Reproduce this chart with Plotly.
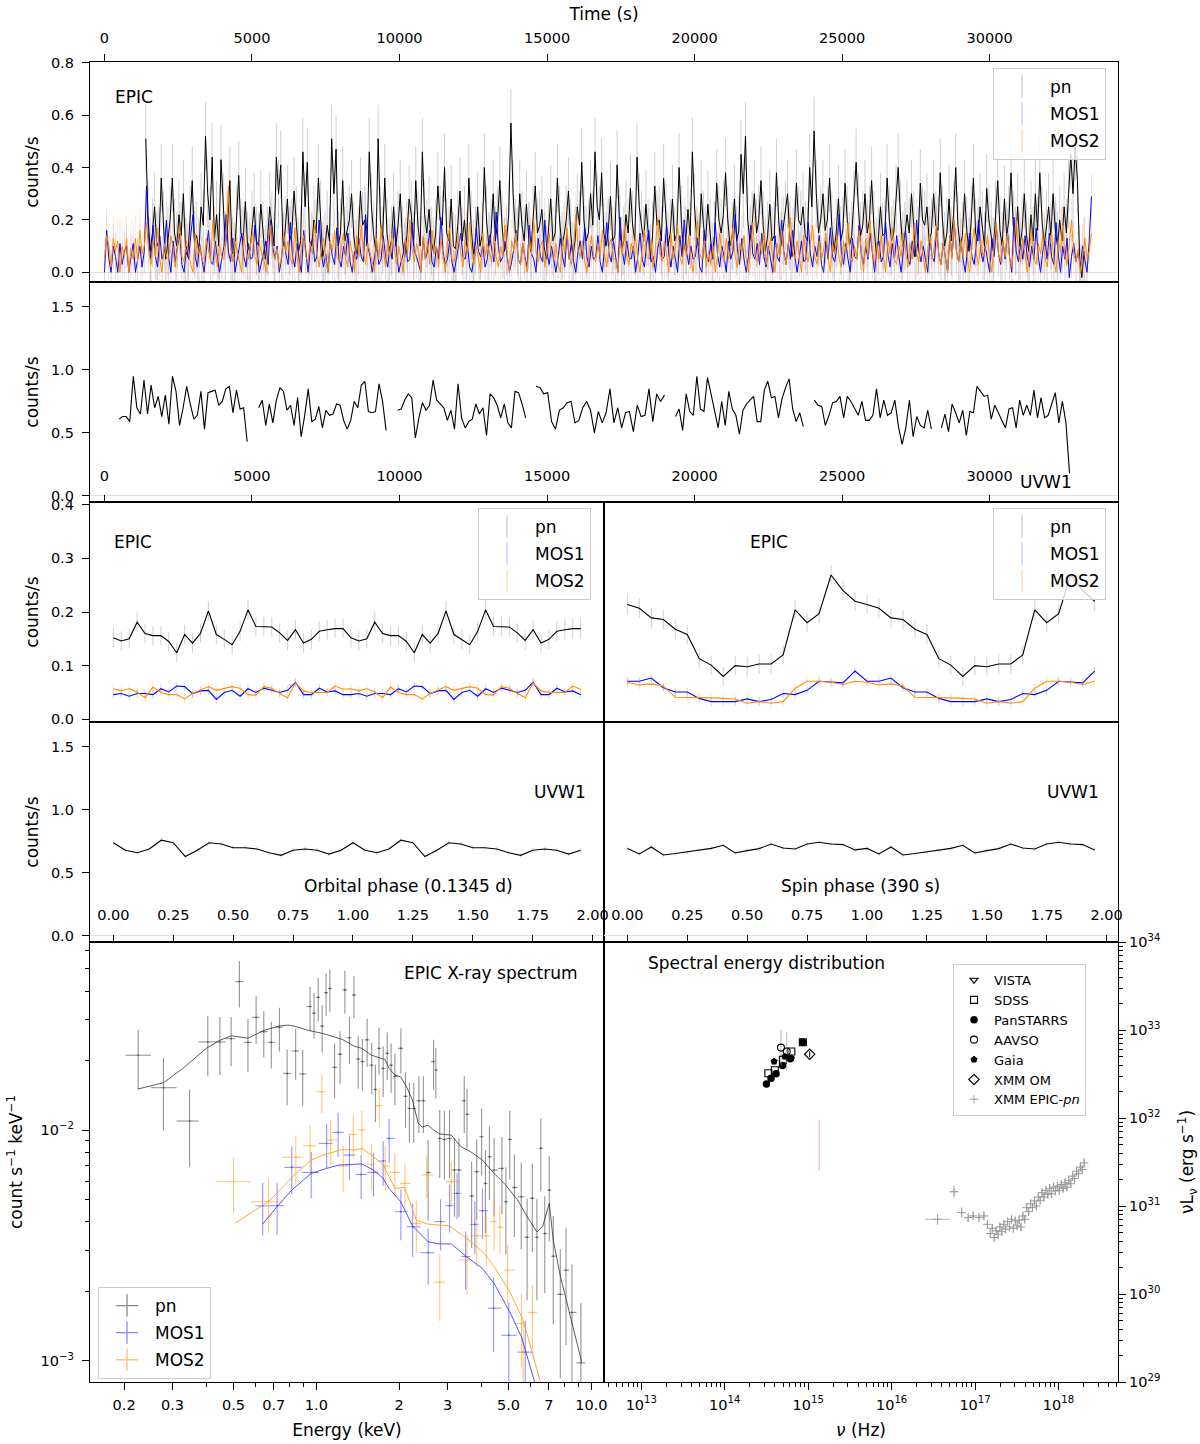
import numpy as np
import plotly.graph_objects as go

W, H = 1200, 1444
FONT = "DejaVu Sans"


def xd(a, b):
    return [a / W, b / W]


def yd(top, bot):
    return [1 - bot / H, 1 - top / H]


# ---------------------------------------------------------------- data
# EPIC light curves (75 s bins)
BIN_LC = 75.0
PN_T0 = 1400.0
pn_rate = [
    0.51, 0.22, 0.08, 0.15, 0.25, 0.10, 0.12, 0.36, 0.18, 0.05, 0.12, 0.20, 0.36, 0.15, 0.10, 0.22, 0.14, 0.30, 0.08, 0.06, 0.20, 0.35, 0.12, 0.14, 0.08,
    0.25, 0.18, 0.52, 0.30, 0.20, 0.44, 0.12, 0.22, 0.10, 0.43, 0.25, 0.10, 0.18, 0.35, 0.08, 0.06, 0.20, 0.37, 0.15, 0.12, 0.27, 0.10, 0.08, 0.18, 0.25,
    0.12, 0.10, 0.26, 0.14, 0.05, 0.12, 0.25, 0.18, 0.10, 0.44, 0.30, 0.41, 0.10, 0.16, 0.28, 0.12, 0.15, 0.31, 0.20, 0.08, 0.12, 0.46, 0.25, 0.42, 0.12,
    0.10, 0.20, 0.15, 0.36, 0.22, 0.06, 0.10, 0.18, 0.12, 0.51, 0.30, 0.47, 0.10, 0.15, 0.35, 0.12, 0.16, 0.20, 0.30, 0.14, 0.07, 0.12, 0.31, 0.18, 0.20,
    0.10, 0.46, 0.25, 0.14, 0.08, 0.51, 0.20, 0.12, 0.36, 0.15, 0.08, 0.12, 0.25, 0.10, 0.18, 0.30, 0.12, 0.06, 0.14, 0.28, 0.22, 0.10, 0.35, 0.18, 0.10,
    0.46, 0.22, 0.15, 0.24, 0.12, 0.08, 0.15, 0.33, 0.20, 0.18, 0.40, 0.15, 0.12, 0.28, 0.10, 0.09, 0.18, 0.31, 0.12, 0.20, 0.10, 0.36, 0.18, 0.07, 0.12,
    0.25, 0.10, 0.14, 0.40, 0.20, 0.10, 0.15, 0.30, 0.12, 0.20, 0.35, 0.18, 0.08, 0.12, 0.22, 0.57, 0.30, 0.15, 0.12, 0.30, 0.18, 0.12, 0.26, 0.14, 0.08,
    0.20, 0.33, 0.15, 0.18, 0.24, 0.10, 0.05, 0.15, 0.28, 0.12, 0.15, 0.36, 0.20, 0.10, 0.14, 0.20, 0.31, 0.15, 0.06, 0.12, 0.25, 0.18, 0.42, 0.20, 0.12,
    0.15, 0.30, 0.18, 0.46, 0.25, 0.20, 0.38, 0.15, 0.10, 0.16, 0.29, 0.12, 0.14, 0.41, 0.20, 0.08, 0.12, 0.22, 0.15, 0.32, 0.18, 0.12, 0.44, 0.25, 0.18,
    0.12, 0.26, 0.15, 0.05, 0.14, 0.33, 0.18, 0.20, 0.12, 0.36, 0.22, 0.10, 0.15, 0.28, 0.12, 0.15, 0.40, 0.20, 0.08, 0.12, 0.24, 0.14, 0.46, 0.25, 0.12,
    0.10, 0.30, 0.18, 0.12, 0.26, 0.15, 0.06, 0.14, 0.34, 0.20, 0.15, 0.22, 0.38, 0.20, 0.10, 0.14, 0.28, 0.12, 0.16, 0.45, 0.30, 0.52, 0.20, 0.12, 0.18,
    0.30, 0.15, 0.20, 0.35, 0.18, 0.08, 0.14, 0.26, 0.12, 0.14, 0.38, 0.20, 0.10, 0.16, 0.22, 0.30, 0.14, 0.06, 0.15, 0.34, 0.20, 0.18, 0.25, 0.14, 0.12,
    0.40, 0.25, 0.54, 0.30, 0.15, 0.20, 0.30, 0.16, 0.20, 0.36, 0.18, 0.08, 0.15, 0.28, 0.12, 0.16, 0.34, 0.20, 0.10, 0.14, 0.26, 0.42, 0.25, 0.14, 0.18,
    0.30, 0.15, 0.20, 0.35, 0.18, 0.08, 0.12, 0.25, 0.14, 0.15, 0.36, 0.20, 0.12, 0.15, 0.28, 0.40, 0.22, 0.10, 0.14, 0.22, 0.15, 0.30, 0.18, 0.06, 0.12,
    0.34, 0.20, 0.18, 0.25, 0.12, 0.15, 0.30, 0.18, 0.16, 0.38, 0.20, 0.10, 0.15, 0.28, 0.12, 0.22, 0.40, 0.18, 0.10, 0.14, 0.30, 0.16, 0.08, 0.20, 0.36,
    0.15, 0.12, 0.25, 0.18, 0.10, 0.32, 0.20, 0.14, 0.08, 0.22, 0.35, 0.16, 0.10, 0.28, 0.14, 0.20, 0.38, 0.18, 0.12, 0.25, 0.10, 0.16, 0.30, 0.14, 0.08,
    0.22, 0.12, 0.30, 0.16, 0.38, 0.20, 0.10, 0.18, 0.25, 0.14, 0.30, 0.16, 0.10, 0.20, 0.12, 0.25, 0.15, 0.30, 0.45, 0.30, 0.48, 0.35, 0.05, -0.02, 0.08,
]
mos1_rate = [
    0.00, 0.16, 0.05, 0.00, 0.10, 0.06, 0.00, 0.11, 0.03, 0.08, 0.10, 0.00, 0.06, 0.11, 0.00, 0.05, 0.10, 0.02, 0.08, 0.33, 0.12, 0.05, 0.18, 0.06, 0.02,
    0.14, 0.05, 0.08, 0.20, 0.06, 0.00, 0.12, 0.04, 0.10, 0.15, 0.03, 0.00, 0.10, 0.05, 0.14, 0.22, 0.06, 0.02, 0.11, 0.05, 0.00, 0.08, 0.16, 0.04, 0.03,
    0.12, 0.06, 0.00, 0.05, 0.10, 0.22, 0.08, 0.04, 0.13, 0.00, 0.05, 0.09, 0.15, 0.06, 0.02, 0.11, 0.05, 0.06, 0.18, 0.08, 0.00, 0.04, 0.08, 0.12, 0.03,
    0.20, 0.10, 0.05, 0.10, 0.00, 0.05, 0.14, 0.07, 0.03, 0.19, 0.06, 0.02, 0.11, 0.05, 0.00, 0.16, 0.08, 0.00, 0.09, 0.13, 0.04, 0.06, 0.20, 0.07, 0.02,
    0.07, 0.00, 0.12, 0.06, 0.03, 0.17, 0.05, 0.02, 0.10, 0.06, 0.15, 0.04, 0.00, 0.08, 0.05, 0.13, 0.06, 0.04, 0.22, 0.10, 0.06, 0.00, 0.05, 0.11, 0.03,
    0.05, 0.14, 0.06, 0.02, 0.10, 0.05, 0.18, 0.08, 0.00, 0.04, 0.07, 0.12, 0.04, 0.05, 0.19, 0.08, 0.06, 0.03, 0.00, 0.13, 0.05, 0.08, 0.16, 0.04, 0.02,
    0.10, 0.05, 0.21, 0.08, 0.03, 0.05, 0.12, 0.04, 0.00, 0.05, 0.09, 0.15, 0.06, 0.05, 0.11, 0.02, 0.00, 0.06, 0.17, 0.08, 0.06, 0.10, 0.02, 0.05, 0.14,
    0.08, 0.04, 0.23, 0.10, 0.04, 0.06, 0.12, 0.05, 0.00, 0.04, 0.09, 0.16, 0.05, 0.03, 0.11, 0.06, 0.02, 0.18, 0.07, 0.05, 0.00, 0.13, 0.06, 0.04, 0.20,
    0.07, 0.03, 0.10, 0.05, 0.00, 0.06, 0.13, 0.06, 0.02, 0.15, 0.05, 0.11, 0.04, 0.00, 0.08, 0.12, 0.05, 0.17, 0.06, 0.02, 0.10, 0.05, 0.06, 0.14, 0.04,
    0.00, 0.09, 0.19, 0.07, 0.04, 0.12, 0.05, 0.00, 0.21, 0.08, 0.03, 0.12, 0.06, 0.05, 0.10, 0.00, 0.06, 0.15, 0.05, 0.02, 0.11, 0.16, 0.04, 0.06, 0.00,
    0.09, 0.13, 0.05, 0.06, 0.18, 0.07, 0.02, 0.10, 0.05, 0.00, 0.14, 0.06, 0.20, 0.08, 0.03, 0.10, 0.05, 0.06, 0.13, 0.02, 0.00, 0.16, 0.06, 0.04, 0.11,
    0.05, 0.19, 0.07, 0.02, 0.10, 0.06, 0.00, 0.12, 0.05, 0.08, 0.22, 0.09, 0.03, 0.13, 0.05, 0.00, 0.06, 0.18, 0.07, 0.05, 0.11, 0.03, 0.15, 0.06, 0.02,
    0.10, 0.05, 0.00, 0.14, 0.06, 0.04, 0.20, 0.08, 0.03, 0.11, 0.05, 0.16, 0.06, 0.00, 0.07, 0.12, 0.04, 0.05, 0.19, 0.07, 0.02, 0.10, 0.06, 0.14, 0.03,
    0.00, 0.12, 0.05, 0.17, 0.06, 0.04, 0.10, 0.22, 0.08, 0.03, 0.11, 0.05, 0.00, 0.13, 0.06, 0.05, 0.18, 0.07, 0.03, 0.10, 0.05, 0.15, 0.06, 0.00, 0.09,
    0.12, 0.04, 0.06, 0.19, 0.07, 0.02, 0.11, 0.05, 0.14, 0.06, 0.00, 0.08, 0.16, 0.05, 0.03, 0.12, 0.06, 0.20, 0.08, 0.04, 0.10, 0.05, 0.00, 0.13, 0.06,
    0.04, 0.17, 0.07, 0.03, 0.11, 0.05, 0.00, 0.14, 0.06, 0.19, 0.08, 0.04, 0.12, 0.05, 0.00, 0.09, 0.15, 0.06, 0.03, 0.11, 0.20, 0.08, 0.04, 0.10, 0.05,
    0.00, 0.13, 0.06, 0.18, 0.07, 0.03, 0.12, 0.05, 0.16, 0.06, 0.00, 0.21, 0.08, 0.04, 0.11, 0.05, 0.14, 0.06, 0.02, 0.10, 0.05, 0.17, 0.06, 0.00, 0.08,
    0.12, 0.05, 0.15, 0.06, 0.03, 0.19, 0.07, 0.00, 0.10, 0.05, 0.13, -0.02, 0.06, 0.11, 0.04, 0.08, 0.02, 0.10, 0.05, 0.00, 0.12, 0.29,
]
mos2_rate = [
    0.05, 0.14, 0.10, 0.02, 0.13, 0.08, 0.12, 0.00, 0.10, 0.06, 0.13, 0.00, 0.09, 0.05, 0.13, 0.04, 0.16, 0.07, 0.10, 0.19, 0.08, 0.03, 0.12, 0.06, 0.17,
    0.05, 0.00, 0.11, 0.06, 0.05, 0.14, 0.09, 0.02, 0.09, 0.18, 0.06, 0.04, 0.12, 0.07, 0.03, 0.00, 0.15, 0.06, 0.10, 0.05, 0.03, 0.13, 0.08, 0.04, 0.20,
    0.08, 0.02, 0.11, 0.06, 0.05, 0.14, 0.33, 0.10, 0.04, 0.12, 0.08, 0.05, 0.00, 0.14, 0.08, 0.05, 0.10, 0.16, 0.06, 0.03, 0.11, 0.07, 0.05, 0.00, 0.13,
    0.18, 0.08, 0.05, 0.09, 0.02, 0.06, 0.15, 0.08, 0.12, 0.05, 0.03, 0.17, 0.06, 0.00, 0.10, 0.14, 0.06, 0.04, 0.11, 0.07, 0.19, 0.08, 0.02, 0.09, 0.13,
    0.05, 0.00, 0.12, 0.08, 0.16, 0.06, 0.04, 0.10, 0.15, 0.05, 0.02, 0.12, 0.07, 0.00, 0.14, 0.06, 0.18, 0.08, 0.03, 0.11, 0.08, 0.04, 0.00, 0.13, 0.05,
    0.17, 0.09, 0.02, 0.12, 0.06, 0.15, 0.08, 0.03, 0.10, 0.05, 0.00, 0.13, 0.07, 0.20, 0.09, 0.04, 0.11, 0.08, 0.00, 0.14, 0.05, 0.12, 0.03, 0.16, 0.07,
    0.10, 0.02, 0.13, 0.06, 0.00, 0.11, 0.17, 0.05, 0.04, 0.09, 0.14, 0.07, 0.02, 0.12, 0.07, 0.19, 0.08, 0.03, 0.10, 0.05, 0.00, 0.15, 0.06, 0.11, 0.08,
    0.04, 0.14, 0.06, 0.02, 0.10, 0.06, 0.18, 0.07, 0.00, 0.12, 0.08, 0.15, 0.05, 0.03, 0.11, 0.05, 0.00, 0.13, 0.07, 0.20, 0.08, 0.04, 0.10, 0.12, 0.02,
    0.09, 0.15, 0.06, 0.05, 0.11, 0.03, 0.00, 0.13, 0.07, 0.17, 0.06, 0.03, 0.10, 0.22, 0.08, 0.06, 0.12, 0.04, 0.00, 0.08, 0.14, 0.06, 0.04, 0.11, 0.06,
    0.16, 0.07, 0.02, 0.10, 0.13, 0.05, 0.05, 0.00, 0.12, 0.07, 0.18, 0.06, 0.03, 0.11, 0.08, 0.14, 0.05, 0.00, 0.09, 0.16, 0.06, 0.05, 0.12, 0.02, 0.10,
    0.21, 0.08, 0.04, 0.12, 0.07, 0.00, 0.15, 0.05, 0.10, 0.18, 0.06, 0.03, 0.11, 0.06, 0.14, 0.05, 0.00, 0.09, 0.20, 0.07, 0.05, 0.12, 0.02, 0.08, 0.03,
    0.10, 0.00, 0.06, 0.15, 0.07, 0.04, 0.13, 0.05, 0.09, 0.17, 0.06, 0.02, 0.11, 0.08, 0.14, 0.05, 0.00, 0.10, 0.19, 0.06, 0.04, 0.12, 0.07, 0.15, 0.03,
    0.08, 0.13, 0.05, 0.00, 0.11, 0.06, 0.16, 0.07, 0.03, 0.10, 0.21, 0.08, 0.05, 0.12, 0.06, 0.00, 0.14, 0.07, 0.04, 0.10, 0.18, 0.06, 0.03, 0.12, 0.05,
    0.09, 0.15, 0.06, 0.00, 0.11, 0.07, 0.14, 0.05, 0.02, 0.12, 0.08, 0.19, 0.06, 0.04, 0.10, 0.05, 0.16, 0.07, 0.00, 0.13, 0.06, 0.20, 0.08, 0.03, 0.11,
    0.05, 0.14, 0.06, 0.00, 0.12, 0.07, 0.17, 0.05, 0.03, 0.10, 0.06, 0.15, 0.08, 0.02, 0.11, 0.05, 0.19, 0.07, 0.04, 0.12, 0.06, 0.00, 0.09, 0.14, 0.05,
    0.10, 0.18, 0.07, 0.03, 0.11, 0.06, 0.00, 0.14, 0.05, 0.20, 0.08, 0.04, 0.12, 0.06, 0.15, 0.05, 0.00, 0.10, 0.17, 0.07, 0.03, 0.12, 0.06, 0.08, 0.14,
    0.05, 0.00, 0.11, 0.19, 0.07, 0.04, 0.12, 0.06, 0.15, 0.05, 0.02, 0.10, 0.20, 0.08, 0.04, 0.13, 0.06, 0.00, 0.09, 0.16, 0.05, 0.03, 0.11, 0.07, 0.14,
    0.06, 0.02, 0.10, 0.15, 0.05, 0.00, 0.12, 0.08, 0.18, 0.06, 0.03, 0.11, 0.20, 0.07, 0.04, 0.09, 0.00, 0.06, 0.13, 0.05, 0.08, 0.15,
]
PN_LC_ERR = 0.13
MOS_LC_ERR = 0.085

# UVW1 light curve, one list per exposure segment
uvw1_seg_start = [495, 5227, 9933, 14626, 19355, 24060, 28365]
uvw1_seg_end = [4837, 9545, 14275, 18980, 23685, 28025, 32707]
uvw1_rate = [
    [0.61, 0.63, 0.63, 0.59, 0.95, 0.70, 0.65, 0.92, 0.65, 0.88, 0.70, 0.79, 0.63, 0.80, 0.57, 0.95, 0.83, 0.56, 0.70,
     0.87, 0.73, 0.61, 0.64, 0.83, 0.53, 0.82, 0.83, 0.84, 0.72, 0.75, 0.85, 0.87, 0.66, 0.84, 0.69, 0.70, 0.43],
    [0.70, 0.76, 0.56, 0.73, 0.58, 0.76, 0.86, 0.83, 0.68, 0.72, 0.56, 0.78, 0.47, 0.64, 0.85, 0.59, 0.61, 0.71, 0.54,
     0.68, 0.64, 0.65, 0.73, 0.72, 0.60, 0.53, 0.60, 0.75, 0.70, 0.88, 0.91, 0.67, 0.66, 0.67, 0.89, 0.75, 0.52],
    [0.68, 0.69, 0.76, 0.81, 0.78, 0.46, 0.62, 0.74, 0.68, 0.72, 0.92, 0.76, 0.73, 0.70, 0.60, 0.68, 0.53, 0.89, 0.62,
     0.54, 0.59, 0.61, 0.73, 0.65, 0.70, 0.48, 0.81, 0.78, 0.72, 0.62, 0.73, 0.58, 0.54, 0.83, 0.82, 0.73, 0.62],
    [0.87, 0.86, 0.81, 0.82, 0.59, 0.53, 0.68, 0.70, 0.74, 0.75, 0.58, 0.60, 0.70, 0.75, 0.68, 0.50, 0.67, 0.58,
     0.66, 0.85, 0.58, 0.70, 0.54, 0.66, 0.67, 0.51, 0.72, 0.63, 0.64, 0.85, 0.59, 0.81, 0.75, 0.80],
    [0.63, 0.69, 0.52, 0.81, 0.67, 0.64, 0.95, 0.69, 0.67, 0.94, 0.81, 0.67, 0.54, 0.75, 0.56, 0.83, 0.69, 0.64, 0.49,
     0.68, 0.73, 0.76, 0.79, 0.59, 0.59, 0.84, 0.91, 0.78, 0.79, 0.62, 0.77, 0.86, 0.93, 0.69, 0.59, 0.66, 0.55],
    [0.76, 0.72, 0.71, 0.56, 0.64, 0.74, 0.75, 0.79, 0.62, 0.79, 0.75, 0.69, 0.64, 0.75, 0.60, 0.60, 0.64, 0.85, 0.62,
     0.76, 0.64, 0.66, 0.76, 0.55, 0.41, 0.54, 0.76, 0.47, 0.63, 0.56, 0.54, 0.68, 0.53],
    [0.54, 0.65, 0.51, 0.73, 0.66, 0.58, 0.68, 0.48, 0.67, 0.66, 0.87, 0.83, 0.79, 0.80, 0.61, 0.72, 0.66, 0.61, 0.54,
     0.69, 0.70, 0.54, 0.76, 0.64, 0.72, 0.64, 0.84, 0.62, 0.78, 0.62, 0.64, 0.73, 0.82, 0.58, 0.75, 0.58, 0.18],
]

time_ticks = [0, 5000, 10000, 15000, 20000, 25000, 30000]

# phase-folded light curves (one cycle, plotted twice)
orb_pn = [0.152, 0.146, 0.150, 0.181, 0.160, 0.156, 0.156, 0.145, 0.124, 0.158, 0.142, 0.160, 0.202, 0.158, 0.149,
          0.139, 0.164, 0.204, 0.173, 0.173, 0.172, 0.161, 0.147, 0.167, 0.142, 0.149, 0.164, 0.167, 0.169, 0.169]
orb_m1 = [0.046, 0.048, 0.043, 0.048, 0.048, 0.046, 0.057, 0.051, 0.062, 0.061, 0.048, 0.053, 0.054, 0.037, 0.050,
          0.054, 0.043, 0.057, 0.050, 0.058, 0.054, 0.050, 0.054, 0.069, 0.046, 0.046, 0.058, 0.051, 0.053, 0.046]
orb_m2 = [0.057, 0.053, 0.057, 0.051, 0.040, 0.060, 0.050, 0.046, 0.046, 0.038, 0.048, 0.054, 0.061, 0.054, 0.057,
          0.061, 0.058, 0.046, 0.045, 0.061, 0.058, 0.048, 0.040, 0.068, 0.053, 0.050, 0.050, 0.050, 0.062, 0.056]
spin_pn = [0.214, 0.207, 0.189, 0.186, 0.168, 0.158, 0.113, 0.101, 0.080, 0.100, 0.098, 0.103, 0.103, 0.120, 0.204,
           0.180, 0.197, 0.269, 0.240, 0.220]
spin_m1 = [0.071, 0.071, 0.077, 0.059, 0.051, 0.051, 0.039, 0.033, 0.033, 0.033, 0.038, 0.033, 0.037, 0.048, 0.046,
           0.054, 0.071, 0.069, 0.068, 0.090]
spin_m2 = [0.069, 0.064, 0.066, 0.062, 0.041, 0.041, 0.041, 0.040, 0.039, 0.038, 0.030, 0.033, 0.030, 0.033, 0.058,
           0.071, 0.071, 0.069, 0.065, 0.071]
uvw_orb = [0.74, 0.68, 0.66, 0.69, 0.76, 0.74, 0.63, 0.68, 0.74, 0.73, 0.70, 0.70, 0.69, 0.66, 0.64, 0.68, 0.69,
           0.68, 0.65, 0.68]
uvw_spin = [0.695, 0.651, 0.706, 0.643, 0.654, 0.667, 0.677, 0.695, 0.720, 0.659, 0.677, 0.693, 0.730, 0.698, 0.690,
            0.730, 0.743, 0.730, 0.725, 0.683]
PN_PH_ERR, MOS_PH_ERR, UVW_PH_ERR = 0.018, 0.008, 0.018
phase_ticks = [0, 0.25, 0.5, 0.75, 1.0, 1.25, 1.5, 1.75, 2.0]

# EPIC X-ray spectrum
spec_pn_e = [0.225, 0.278, 0.346, 0.403, 0.446, 0.490, 0.525, 0.564, 0.604, 0.644, 0.686, 0.734, 0.783, 0.841, 0.892,
             0.949, 0.981, 1.016, 1.05, 1.085, 1.12, 1.165, 1.22, 1.27, 1.32, 1.37, 1.42, 1.47, 1.53, 1.59, 1.64, 1.69,
             1.75, 1.81, 1.87, 1.93, 2.03, 2.11, 2.18, 2.26, 2.36, 2.45, 2.55, 2.67, 2.72, 2.81, 2.92, 3.05, 3.18, 3.30,
             3.45, 3.53, 3.67, 3.83, 3.99, 4.12, 4.26, 4.43, 4.73, 4.89, 5.05, 5.25, 5.56, 5.84, 6.10, 6.34, 6.55, 6.77,
             7.03, 7.27, 7.71, 8.09, 8.50, 9.16]
spec_pn_v = [0.0211, 0.01526, 0.01094, 0.0241, 0.0241, 0.0249, 0.0440, 0.0240, 0.0308, 0.0267, 0.0240, 0.0279,
             0.0176, 0.0220, 0.0175, 0.0343, 0.0321, 0.0376, 0.0282, 0.0394, 0.0411, 0.0187, 0.0213, 0.0405, 0.0251,
             0.0385, 0.0203, 0.0198, 0.0246, 0.0191, 0.0150, 0.0226, 0.0185, 0.0215, 0.0191, 0.0171, 0.0226, 0.0140,
             0.0124, 0.0124, 0.0134, 0.0134, 0.00655, 0.0198, 0.0182, 0.0092, 0.00911, 0.0092, 0.00671, 0.00671,
             0.0134, 0.0117, 0.00518, 0.0066, 0.00936, 0.00587, 0.00766, 0.00671, 0.00682, 0.00489, 0.00911, 0.00564,
             0.00514, 0.00343, 0.00506, 0.00343, 0.00833, 0.00356, 0.00549, 0.00284, 0.00194, 0.00247, 0.00162,
             0.00098]
spec_pn_err = [0.0061, 0.0053, 0.0040, 0.0070, 0.0068, 0.0060, 0.0100, 0.0062, 0.0072, 0.0060, 0.0055, 0.0060,
               0.0048, 0.0055, 0.0048, 0.0075, 0.0072, 0.0080, 0.0065, 0.0082, 0.0085, 0.0050, 0.0055, 0.0085, 0.0058,
               0.0080, 0.0052, 0.0050, 0.0058, 0.0048, 0.0042, 0.0052, 0.0046, 0.0050, 0.0046, 0.0043, 0.0050, 0.0038,
               0.0036, 0.0036, 0.0037, 0.0037, 0.0025, 0.0048, 0.0045, 0.0030, 0.0030, 0.0030, 0.0025, 0.0025, 0.0037,
               0.0034, 0.0021, 0.0025, 0.0030, 0.0023, 0.0027, 0.0025, 0.0025, 0.0020, 0.0030, 0.0022, 0.0021, 0.0016,
               0.0021, 0.0016, 0.0029, 0.0016, 0.0022, 0.0014, 0.0011, 0.0013, 0.0010, 0.0008]
spec_m1_e = [0.638, 0.720, 0.814, 0.958, 1.09, 1.20, 1.32, 1.455, 1.614, 1.75, 1.84, 2.03, 2.24, 2.55, 2.83, 3.05,
             3.25, 3.49, 3.77, 4.02, 4.41, 5.01, 5.75]
spec_m1_v = [0.00469, 0.00470, 0.00689, 0.00655, 0.00875, 0.00977, 0.00779, 0.00642, 0.00655, 0.00734, 0.00920,
             0.00443, 0.00381, 0.00294, 0.00401, 0.00470, 0.00531, 0.00283, 0.00390, 0.00447, 0.00169, 0.00129,
             0.00109]
spec_m1_err = [0.0012, 0.0012, 0.0016, 0.0015, 0.0019, 0.0021, 0.0017, 0.0014, 0.0014, 0.0016, 0.0020, 0.0011,
               0.0010, 0.0008, 0.0010, 0.0011, 0.0012, 0.0008, 0.0010, 0.0011, 0.0006, 0.0005, 0.0004]
spec_m2_e = [0.500, 0.670, 0.842, 0.949, 1.047, 1.128, 1.252, 1.362, 1.464, 1.588, 1.694, 1.78, 1.93, 2.10, 2.31,
             2.52, 2.81, 3.095, 3.53, 3.83, 4.15, 4.43, 4.65, 4.96, 5.57, 5.65, 6.10]
spec_m2_v = [0.00597, 0.00489, 0.00762, 0.00855, 0.01466, 0.00905, 0.00698, 0.00958, 0.0100, 0.00710, 0.01275,
             0.00698, 0.00655, 0.00587, 0.00394, 0.00638, 0.00219, 0.00597, 0.00273, 0.00348, 0.00348, 0.00401,
             0.00379, 0.00247, 0.00145, 0.00109, 0.00162]
spec_m2_err = [0.0016, 0.0013, 0.0018, 0.0019, 0.0028, 0.0020, 0.0016, 0.0020, 0.0021, 0.0016, 0.0025, 0.0015,
               0.0014, 0.0013, 0.0010, 0.0013, 0.0007, 0.0013, 0.0008, 0.0009, 0.0009, 0.0010, 0.0009, 0.0007,
               0.0005, 0.0004, 0.0005]
model_pn_e = [0.225, 0.278, 0.327, 0.398, 0.446, 0.490, 0.564, 0.649, 0.738, 0.788, 0.842, 0.928, 1.057, 1.165,
              1.244, 1.371, 1.463, 1.588, 1.694, 1.779, 1.839, 1.931, 2.027, 2.128, 2.235, 2.348, 2.425, 2.546,
              2.673, 2.807, 3.095, 3.357, 3.643, 4.018, 4.43, 4.88, 5.39, 5.84, 6.34, 6.65, 7.03, 7.27, 7.70, 8.50,
              9.22]
model_pn_v = [0.01507, 0.01603, 0.01849, 0.0226, 0.0245, 0.0256, 0.0250, 0.0271, 0.0283, 0.0285, 0.0281, 0.0271,
              0.0262, 0.0252, 0.0247, 0.0231, 0.0226, 0.0211, 0.0205, 0.0202, 0.0185, 0.0173, 0.0170, 0.0154,
              0.0135, 0.0107, 0.0103, 0.0105, 0.0100, 0.00961, 0.00951, 0.00847, 0.00805, 0.00741, 0.00649,
              0.00578, 0.00498, 0.00421, 0.00362, 0.00381, 0.00481, 0.00333, 0.00235, 0.00145, 0.00099]
model_m1_e = [0.638, 0.720, 0.815, 0.958, 1.092, 1.205, 1.464, 1.614, 1.751, 1.839, 2.027, 2.235, 2.546, 2.807,
              3.095, 3.527, 4.018, 4.43, 5.05, 5.57, 6.24]
model_m1_v = [0.00391, 0.00466, 0.00550, 0.00649, 0.00682, 0.00705, 0.00713, 0.00671, 0.00617, 0.00558, 0.00489,
              0.00385, 0.00328, 0.00321, 0.00321, 0.00282, 0.00251, 0.00216, 0.00163, 0.00127, 0.000798]
model_m2_e = [0.508, 0.670, 0.842, 0.958, 1.057, 1.244, 1.371, 1.464, 1.588, 1.751, 1.931, 2.095, 2.31, 2.546,
              3.045, 3.527, 4.08, 4.43, 5.05, 5.65, 6.55]
model_m2_v = [0.00396, 0.00489, 0.00649, 0.00741, 0.00779, 0.00824, 0.00819, 0.00833, 0.00779, 0.00705, 0.00558,
              0.00564, 0.00407, 0.00391, 0.00384, 0.00339, 0.00292, 0.00256, 0.00199, 0.00150, 0.000798]
e_ticks = [0.2, 0.3, 0.5, 0.7, 1.0, 2, 3, 5, 7, 10]
e_ticktext = ["0.2", "0.3", "0.5", "0.7", "1.0", "2", "3", "5.0", "7", "10.0"]
e_minor = [0.4, 0.6, 0.8, 0.9, 4, 6, 8, 9]

# SED (log10 nu [Hz], log10 nuL_nu [erg/s])
sed_vista_lognu, sed_vista_logL = [], []
sed_sdss_lognu = [14.523, 14.600, 14.697, 14.798, 14.936]
sed_sdss_logL = [32.509, 32.543, 32.660, 32.755, 32.860]
sed_pan_lognu = [14.500, 14.555, 14.615, 14.693, 14.784, 14.936]
sed_pan_logL = [32.385, 32.453, 32.502, 32.596, 32.672, 32.860]
sed_aavso_lognu = [14.674, 14.743]
sed_aavso_logL = [32.800, 32.755]
sed_aavso_dL = [0.20, 0.22]
sed_gaia_lognu = [14.592, 14.720, 14.798]
sed_gaia_logL = [32.642, 32.698, 32.679]
sed_om_lognu = [15.018]
sed_om_logL = [32.725]
sed_om_dL = [0.035]
sed_uv_lognu = 15.133
sed_uv_logL_lo, sed_uv_logL_hi = 31.404, 31.981
sed_xr_lognu = [16.550, 16.748, 16.839, 16.917, 16.977, 17.046, 17.106, 17.147,
                17.183, 17.206, 17.229, 17.252, 17.275, 17.298, 17.321, 17.344, 17.367, 17.390,
                17.413, 17.436, 17.459, 17.482, 17.505, 17.528, 17.550, 17.573, 17.596, 17.619,
                17.642, 17.665, 17.688, 17.711, 17.734, 17.757, 17.780, 17.803, 17.826, 17.849,
                17.872, 17.895, 17.917, 17.940, 17.963, 17.986, 18.009, 18.032, 18.055, 18.078,
                18.101, 18.124, 18.147, 18.170, 18.193, 18.216, 18.239, 18.262, 18.284, 18.307]
sed_xr_logL = [30.849, 31.162, 30.925, 30.868, 30.887, 30.868, 30.887, 30.792,
               30.687, 30.747, 30.642, 30.717, 30.679, 30.762, 30.709, 30.792, 30.736, 30.823,
               30.762, 30.849, 30.747, 30.830, 30.774, 30.838, 30.762, 30.887, 30.849, 30.981,
               30.936, 31.026, 30.981, 31.057, 31.000, 31.102, 31.064, 31.151, 31.102, 31.177,
               31.132, 31.200, 31.140, 31.215, 31.170, 31.226, 31.177, 31.245, 31.200, 31.264,
               31.215, 31.291, 31.253, 31.340, 31.313, 31.396, 31.366, 31.442, 31.415, 31.491]
sed_xr_dnu = [0.15, 0.05, 0.04, 0.03, 0.02, 0.02, 0.02, 0.015] + [0.011] * 50
sed_xr_dL = [0.065, 0.075, 0.06, 0.05, 0.05, 0.05, 0.05, 0.05] + [0.05] * 50

# ---------------------------------------------------------------- colours
C_PN_ERR = "rgba(170,170,170,0.55)"
C_M1_ERR = "rgba(0,0,255,0.12)"
C_M2_ERR = "rgba(255,140,0,0.18)"
C_BLUE = "#0000ff"
C_ORANGE = "#ff8c00"

fig = go.Figure()


def add_err_line(x, y, err, line_color, err_color, xa, ya, lw=1.1, const=False):
    ey = dict(type="constant", value=err) if const else dict(type="data", array=[err] * len(y))
    ey.update(color=err_color, thickness=1.0, width=0)
    fig.add_trace(go.Scatter(x=x, y=y, mode="markers", marker=dict(size=1, color="rgba(0,0,0,0)"),
                             error_y=ey, xaxis=xa, yaxis=ya, showlegend=False, hoverinfo="skip"))
    fig.add_trace(go.Scatter(x=x, y=y, mode="lines", line=dict(color=line_color, width=lw),
                             xaxis=xa, yaxis=ya, showlegend=False))


def add_legend_ticks(legend_name, xa, ya):
    for name, col in [("pn", "#c8c8c8"), ("MOS1", "rgba(120,120,255,0.45)"), ("MOS2", "rgba(255,170,80,0.45)")]:
        fig.add_trace(go.Scatter(x=[None], y=[None], mode="markers", name=name, legendgroup=legend_name + name,
                                 marker=dict(symbol="line-ns-open", size=18, color=col,
                                             line=dict(color=col, width=1.3)),
                                 xaxis=xa, yaxis=ya, legend=legend_name))


# Panel A: EPIC light curves
pn_t = PN_T0 + BIN_LC * np.arange(len(pn_rate))
mos1_t = BIN_LC * np.arange(len(mos1_rate))
mos2_t = BIN_LC * np.arange(len(mos2_rate))
add_err_line(pn_t, pn_rate, PN_LC_ERR, "black", C_PN_ERR, "x", "y", lw=1.0, const=True)
add_err_line(mos1_t, mos1_rate, MOS_LC_ERR, C_BLUE, C_M1_ERR, "x", "y", lw=1.0, const=True)
add_err_line(mos2_t, mos2_rate, MOS_LC_ERR, C_ORANGE, C_M2_ERR, "x", "y", lw=1.0, const=True)
add_legend_ticks("legend", "x", "y")

# Panel B: UVW1 light curve
ut, uv = [], []
for s, e, vals in zip(uvw1_seg_start, uvw1_seg_end, uvw1_rate):
    ut += list(np.linspace(s, e, len(vals))) + [None]
    uv += list(vals) + [None]
fig.add_trace(go.Scatter(x=ut, y=uv, mode="lines", line=dict(color="black", width=1.1),
                         xaxis="x2", yaxis="y2", showlegend=False, connectgaps=False))

# Panels C-F: phase-folded
for vals, n, col, ecol, err, xa, ya in [
    (orb_pn, 30, "black", C_PN_ERR, PN_PH_ERR, "x3", "y3"),
    (orb_m1, 30, C_BLUE, "rgba(0,0,255,0.18)", MOS_PH_ERR, "x3", "y3"),
    (orb_m2, 30, C_ORANGE, "rgba(255,140,0,0.25)", MOS_PH_ERR, "x3", "y3"),
    (spin_pn, 20, "black", C_PN_ERR, PN_PH_ERR, "x4", "y4"),
    (spin_m1, 20, C_BLUE, "rgba(0,0,255,0.18)", MOS_PH_ERR, "x4", "y4"),
    (spin_m2, 20, C_ORANGE, "rgba(255,140,0,0.25)", MOS_PH_ERR, "x4", "y4"),
    (uvw_orb, 20, "black", "rgba(170,170,170,0.5)", UVW_PH_ERR, "x5", "y5"),
    (uvw_spin, 20, "black", "rgba(170,170,170,0.5)", UVW_PH_ERR, "x6", "y6"),
]:
    ph = np.arange(2 * n) / n
    add_err_line(ph, list(vals) * 2, err, col, ecol, xa, ya, lw=1.1)
add_legend_ticks("legend2", "x3", "y3")
add_legend_ticks("legend3", "x4", "y4")


# Panel G: X-ray spectrum
def bin_half(e):
    e = np.asarray(e, float)
    mid = np.sqrt(e[:-1] * e[1:])
    lo = np.r_[e[0] ** 2 / mid[0], mid]
    hi = np.r_[mid, e[-1] ** 2 / mid[-1]]
    return hi - e, e - lo


for (e, v, err, col) in [
    (spec_pn_e, spec_pn_v, spec_pn_err, "rgba(60,60,60,0.55)"),
    (spec_m1_e, spec_m1_v, spec_m1_err, "rgba(60,60,255,0.55)"),
    (spec_m2_e, spec_m2_v, spec_m2_err, "rgba(255,160,40,0.6)"),
]:
    xp, xm = bin_half(e)
    fig.add_trace(go.Scatter(x=e, y=v, mode="markers", marker=dict(size=2, color=col),
                             error_x=dict(type="data", array=xp, arrayminus=xm, color=col, thickness=1.1, width=0),
                             error_y=dict(type="data", array=err, color=col, thickness=1.1, width=0),
                             xaxis="x7", yaxis="y7", showlegend=False))
for (e, v, col) in [(model_pn_e, model_pn_v, "rgba(40,40,40,0.75)"),
                    (model_m1_e, model_m1_v, "rgba(40,40,255,0.8)"),
                    (model_m2_e, model_m2_v, "rgba(255,160,20,0.9)")]:
    fig.add_trace(go.Scatter(x=e, y=v, mode="lines", line=dict(color=col, width=1),
                             xaxis="x7", yaxis="y7", showlegend=False))
for name, col in [("pn", "rgba(60,60,60,0.6)"), ("MOS1", "rgba(60,60,255,0.6)"), ("MOS2", "rgba(255,160,40,0.65)")]:
    fig.add_trace(go.Scatter(x=[None], y=[None], mode="markers", name=name, legendgroup="spec" + name,
                             marker=dict(symbol="cross-thin-open", size=18, color=col, line=dict(color=col, width=1.3)),
                             xaxis="x7", yaxis="y7", legend="legend4"))


# Panel H: SED
def p10(a):
    return [10 ** v for v in a]


def dex_err(logv, dv):
    L = np.power(10.0, logv)
    d = np.asarray(dv)
    return L * (10 ** d - 1), L * (1 - 10 ** (-d))


fig.add_trace(go.Scatter(x=[10 ** sed_uv_lognu] * 2, y=[10 ** sed_uv_logL_lo, 10 ** sed_uv_logL_hi], mode="lines",
                         line=dict(color="rgba(255,90,90,0.45)", width=1.2), xaxis="x8", yaxis="y8", showlegend=False))
xr_ep, xr_em = dex_err(sed_xr_logL, sed_xr_dL)
xr_np, xr_nm = dex_err(sed_xr_lognu, sed_xr_dnu)
aa_ep, aa_em = dex_err(sed_aavso_logL, sed_aavso_dL)
om_ep, om_em = dex_err(sed_om_logL, sed_om_dL)
sed_traces = [
    ("VISTA", sed_vista_lognu, sed_vista_logL, dict(symbol="triangle-down-open", size=7, color="black",
                                                    line=dict(color="black", width=1.1)), None, None),
    ("SDSS", sed_sdss_lognu, sed_sdss_logL, dict(symbol="square-open", size=7, color="black",
                                                 line=dict(color="black", width=1.1)), None, None),
    ("PanSTARRS", sed_pan_lognu, sed_pan_logL, dict(symbol="circle", size=7.5, color="black"), None, None),
    ("AAVSO", sed_aavso_lognu, sed_aavso_logL, dict(symbol="circle-open", size=7, color="black",
                                                    line=dict(color="black", width=1.1)),
     dict(type="data", array=aa_ep, arrayminus=aa_em, color="rgba(150,150,150,0.7)", thickness=1, width=0), None),
    ("Gaia", sed_gaia_lognu, sed_gaia_logL, dict(symbol="pentagon", size=7.5, color="black"), None, None),
    ("XMM OM", sed_om_lognu, sed_om_logL, dict(symbol="diamond-open", size=8, color="black",
                                               line=dict(color="black", width=1.2)),
     dict(type="data", array=om_ep, arrayminus=om_em, color="black", thickness=1, width=0), None),
    ("XMM EPIC-<i>pn</i>", sed_xr_lognu, sed_xr_logL, dict(symbol="cross-thin-open", size=6, color="#9a9a9a",
                                                           line=dict(color="#9a9a9a", width=1)),
     dict(type="data", array=xr_ep, arrayminus=xr_em, color="rgba(160,160,160,0.8)", thickness=1, width=0),
     dict(type="data", array=xr_np, arrayminus=xr_nm, color="rgba(160,160,160,0.8)", thickness=1, width=0)),
]
for name, lx, ly, mk, ey, ex in sed_traces:
    tr = dict(x=p10(lx) if lx else [None], y=p10(ly) if ly else [None], mode="markers", name=name, marker=mk,
              xaxis="x8", yaxis="y8", legend="legend5")
    if ey:
        tr["error_y"] = ey
    if ex:
        tr["error_x"] = ex
    fig.add_trace(go.Scatter(**tr))

# ---------------------------------------------------------------- axes
TICKF = dict(size=14.5, color="black", family=FONT)
TITF = dict(size=17, color="black", family=FONT)
base = dict(showline=True, linecolor="black", linewidth=1.3, mirror=True, showgrid=False, zeroline=False,
            ticks="outside", ticklen=7, tickwidth=1.3, tickcolor="black", tickfont=TICKF, automargin=False)
ybase = dict(base, ticklabelstandoff=5)
zl = dict(zeroline=True, zerolinecolor="#e2e2e2", zerolinewidth=1)
LC_RANGE = [-490, 34350]
ORB_RANGE = [-0.0983, 2.065]
PH_RANGE = [-0.0975, 2.0475]
no_ticks = dict(ticks="", showticklabels=False)
inside_x = dict(ticks="inside", ticklabelposition="inside", ticklabeloverflow="allow")

layout_axes = dict(
    xaxis=dict(base, domain=xd(90, 1118), anchor="y", side="top", range=LC_RANGE, tickvals=time_ticks,
               tickformat="d", ticklabelstandoff=5, title=dict(text="Time (s)", font=TITF, standoff=5)),
    yaxis=dict(ybase, **zl, domain=yd(62, 282), anchor="x", range=[-0.037, 0.803], tickvals=[0, 0.2, 0.4, 0.6, 0.8],
               tickformat=".1f", title=dict(text="counts/s", font=TITF, standoff=7)),
    xaxis2=dict(base, **inside_x, ticklabelstandoff=11, domain=xd(90, 1118), anchor="y2", range=LC_RANGE,
                tickvals=time_ticks, tickformat="d"),
    yaxis2=dict(ybase, **zl, domain=yd(282, 502), anchor="x2", range=[-0.048, 1.698], tickvals=[0, 0.5, 1.0, 1.5],
                tickformat=".1f", title=dict(text="counts/s", font=TITF, standoff=7)),
    xaxis3=dict(base, **no_ticks, domain=xd(90, 604), anchor="y3", range=ORB_RANGE),
    yaxis3=dict(ybase, domain=yd(502, 722), anchor="x3", range=[-0.005, 0.405], tickvals=[0, 0.1, 0.2, 0.3, 0.4],
                tickformat=".1f", title=dict(text="counts/s", font=TITF, standoff=7)),
    xaxis4=dict(base, **no_ticks, domain=xd(604, 1118), anchor="y4", range=PH_RANGE),
    yaxis4=dict(base, **no_ticks, domain=yd(502, 722), anchor="x4", range=[-0.005, 0.405]),
    xaxis5=dict(base, **inside_x, ticklabelstandoff=12, domain=xd(90, 604), anchor="y5", range=PH_RANGE,
                tickvals=phase_ticks, tickformat=".2f"),
    yaxis5=dict(ybase, **zl, domain=yd(722, 942), anchor="x5", range=[-0.048, 1.698], tickvals=[0, 0.5, 1.0, 1.5],
                tickformat=".1f", title=dict(text="counts/s", font=TITF, standoff=7)),
    xaxis6=dict(base, **inside_x, ticklabelstandoff=12, domain=xd(604, 1118), anchor="y6", range=PH_RANGE,
                tickvals=phase_ticks, tickformat=".2f"),
    yaxis6=dict(base, **zl, **no_ticks, domain=yd(722, 942), anchor="x6", range=[-0.048, 1.698]),
    xaxis7=dict(base, domain=xd(90, 604), anchor="y7", type="log", range=[-0.823, 1.046], tickvals=e_ticks,
                ticktext=e_ticktext, ticklabelstandoff=2,
                minor=dict(tickvals=e_minor, ticks="outside", ticklen=4, tickcolor="black", tickwidth=1),
                title=dict(text="Energy (keV)", font=TITF, standoff=12)),
    yaxis7=dict(ybase, domain=yd(942, 1382), anchor="x7", type="log", range=[-3.092, -1.185],
                tickvals=[1e-3, 1e-2], ticktext=["10<sup>−3</sup>", "10<sup>−2</sup>"],
                minor=dict(tickvals=[k * 1e-3 for k in range(2, 10)] + [k * 1e-2 for k in range(2, 7)],
                           ticks="outside", ticklen=4, tickcolor="black", tickwidth=1),
                title=dict(text="count s<sup>−1</sup> keV<sup>−1</sup>", font=TITF, standoff=13)),
    xaxis8=dict(base, domain=xd(604, 1118), anchor="y8", type="log", range=[12.553, 18.713],
                tickvals=[10.0 ** k for k in range(13, 19)], ticklabelstandoff=2,
                ticktext=["10<sup>%d</sup>" % k for k in range(13, 19)],
                minor=dict(tickvals=[m * 10.0 ** k for k in range(12, 19) for m in range(2, 10)],
                           ticks="outside", ticklen=4, tickcolor="black", tickwidth=1),
                title=dict(text="<i>ν</i> (Hz)", font=TITF, standoff=12)),
    yaxis8=dict(base, domain=yd(942, 1382), anchor="x8", side="right", type="log", range=[29, 34],
                tickvals=[10.0 ** k for k in range(29, 35)],
                ticktext=["10<sup>%d</sup>" % k for k in range(29, 35)],
                minor=dict(tickvals=[m * 10.0 ** k for k in range(29, 34) for m in range(2, 10)],
                           ticks="outside", ticklen=4, tickcolor="black", tickwidth=1),
                title=dict(text="νL<sub>ν</sub> (erg s<sup>−1</sup>)", font=TITF, standoff=22)),
)


def ann(text, x, y, size=17, xanchor="center"):
    return dict(text=text, x=x / W, y=1 - y / H, xref="paper", yref="paper", showarrow=False,
                font=dict(size=size, color="black", family=FONT), xanchor=xanchor, yanchor="middle")


annotations = [
    ann("EPIC", 134, 97),
    ann("UVW1", 1046, 482),
    ann("EPIC", 133, 542),
    ann("EPIC", 769, 542),
    ann("UVW1", 560, 792),
    ann("UVW1", 1073, 792),
    ann("Orbital phase (0.1345 d)", 408, 886),
    ann("Spin phase (390 s)", 860, 886),
    ann("EPIC X-ray spectrum", 491, 973),
    ann("Spectral energy distribution", 766, 963),
]

leg_common = dict(xanchor="left", yanchor="top", bgcolor="rgba(255,255,255,0.8)", bordercolor="#cccccc",
                  borderwidth=1, font=dict(size=17, color="black", family=FONT), itemwidth=46,
                  traceorder="grouped", tracegroupgap=2)

fig.update_layout(
    width=W, height=H, template="none", margin=dict(l=0, r=0, t=0, b=0),
    paper_bgcolor="white", plot_bgcolor="white", font=dict(family=FONT, color="black"),
    showlegend=True, annotations=annotations,
    legend=dict(leg_common, x=993 / W, y=1 - 68 / H),
    legend2=dict(leg_common, x=478 / W, y=1 - 508 / H),
    legend3=dict(leg_common, x=993 / W, y=1 - 508 / H),
    legend4=dict(leg_common, x=98 / W, y=1 - 1287 / H),
    legend5=dict(xanchor="left", yanchor="top", bgcolor="rgba(255,255,255,0.8)", bordercolor="#cccccc",
                 borderwidth=1, x=953 / W, y=1 - 964 / H, font=dict(size=13, color="black", family=FONT),
                 itemwidth=30),
    **layout_axes,
)

fig.write_html("out.html", config={"displayModeBar": False},
               post_script="document.body.style.margin='0px';")
